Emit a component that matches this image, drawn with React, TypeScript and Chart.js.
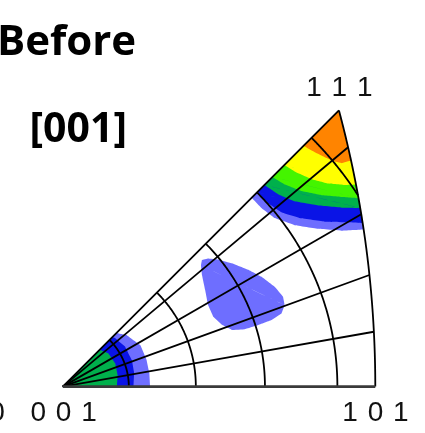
import React, { useEffect, useRef } from "react";
import { Chart, registerables } from "chart.js";

Chart.register(...registerables);

// ---- Data (degrees: polar angle theta from [001], azimuth phi from [100]) ----
const polarCircles = [10, 20, 30, 40, 50];
const azimuthLines = [10, 20, 30, 40];

// Contours around <111>: lower boundary as [phi, theta]
const c111LightBlue = [[45, 39.0], [41.9, 39.0], [38.5, 39.5], [34.8, 41.1], [31.7, 43.4], [29.2, 45.9], [27.6, 48.4]];
const c111Blue = [[45, 40.1], [41.7, 40.1], [38.5, 40.7], [35.2, 42.3], [32.2, 44.6], [29.9, 47.2], [28.6, 48.7]];
const c111DarkGreen = [[45, 41.4], [41.7, 41.9], [38.5, 43.0], [35.3, 45.1], [32.7, 47.4], [31.0, 49.4]];
const c111Lime = [[45, 42.9], [42.3, 43.4], [39.3, 44.5], [36.5, 46.2], [34.2, 48.2], [32.5, 49.9]];
const c111Yellow = [[45, 45.1], [42.8, 45.5], [39.8, 46.5], [37.4, 47.8], [35.5, 49.4], [34.6, 50.5]];
const c111Orange = [[45, 48.6], [43.5, 48.9], [41.7, 49.4], [39.9, 50.0], [38.7, 50.7], [38.1, 51.8]];

// Contours around <001>: outer boundary as [phi, theta]
const c001LightBlue = [[0, 13.2], [9, 13.25], [18, 13.3], [28, 13.3], [39, 12.4], [45, 11.5]];
const c001Blue = [[0, 10.7], [11, 11.0], [21, 11.2], [33, 11.2], [43, 10.8], [45, 10.6]];
const c001Green = [[0, 8.2], [12, 8.5], [24, 8.7], [36, 8.55], [45, 7.9]];

// Isolated blob in the middle: outline as [phi, theta]
const blobOutline = [
  [42.3, 28.0], [41.4, 28.8], [39.3, 29.8], [36.1, 31.0], [32.2, 32.4], [28.9, 33.5],
  [25.2, 34.5], [22.2, 35.0], [20.2, 34.8], [18.5, 34.0], [17.7, 32.4], [17.5, 30.4],
  [17.5, 28.4], [18.5, 26.6], [21.2, 25.5], [24.9, 24.8], [29.3, 24.9], [34.2, 25.7],
  [38.7, 26.6], [41.3, 27.4],
];

const titleText = "Before";
const directionText = "[001]";
const cornerLabels = { c001: "0 0 1", c101: "1 0 1", c111: "1 1 1" };

const colors = {
  lightBlue: "#6e6eff",
  blue: "#0a14e6",
  darkGreen: "#00b04c",
  lime: "#44f500",
  yellow: "#ffff00",
  orange: "#ff8400",
};

// ---- Geometry helpers (stereographic projection) ----
const rad = (d: number) => (d * Math.PI) / 180;
const deg = (r: number) => (r * 180) / Math.PI;
type P = { x: number; y: number };
function proj(theta: number, phi: number): P {
  const t = Math.tan(rad(theta) / 2);
  return { x: t * Math.cos(rad(phi)), y: t * Math.sin(rad(phi)) };
}
function arcTheta(phi: number): number {
  const c = Math.cos(rad(phi));
  return deg(2 * Math.atan(-c + Math.sqrt(c * c + 1)));
}
function pt(phi: number, theta: number): P {
  return proj(Math.min(theta, arcTheta(phi)), phi);
}
function arcPts(p0: number, p1: number, n: number): P[] {
  const out: P[] = [];
  for (let i = 0; i <= n; i++) {
    const phi = p0 + ((p1 - p0) * i) / n;
    out.push(proj(arcTheta(phi), phi));
  }
  return out;
}
function closeShape(pts: P[]): P[] {
  let li = 0;
  for (let i = 1; i < pts.length; i++) if (pts[i].x < pts[li].x) li = i;
  const ring = [...pts.slice(li), ...pts.slice(0, li)];
  let ri = 0;
  for (let i = 1; i < ring.length; i++) if (ring[i].x > ring[ri].x) ri = i;
  return [...ring, ring[0], ring[ri]];
}
function shape111(b: number[][]): P[] {
  const pts = b.map(([phi, theta]) => pt(phi, theta));
  const lastPhi = b[b.length - 1][0];
  return closeShape([...pts, ...arcPts(lastPhi, 45, 24)]);
}
function shape001(b: number[][]): P[] {
  return closeShape([{ x: 0, y: 0 }, ...b.map(([phi, theta]) => pt(phi, theta))]);
}
function shapeBlob(b: number[][]): P[] {
  return closeShape(b.map(([phi, theta]) => pt(phi, theta)));
}

function lineDs(data: P[], color = "#000", width = 1.8) {
  return {
    data,
    showLine: true,
    borderColor: color,
    borderWidth: width,
    pointRadius: 0,
    fill: false,
    tension: 0.0001,
    order: 0,
  };
}
function fillDs(data: P[], color: string, order: number) {
  return {
    data,
    showLine: true,
    borderColor: "rgba(0,0,0,0)",
    borderWidth: 0,
    backgroundColor: color,
    pointRadius: 0,
    fill: "shape",
    tension: 0.0001,
    order,
  };
}

function buildDatasets() {
  const ds: any[] = [];
  // grid & boundary
  ds.push(lineDs([{ x: 0, y: 0 }, proj(45, 0)], "#3a3a3a", 2.6));
  ds.push(lineDs([{ x: 0, y: 0 }, proj(arcTheta(45), 45)]));
  ds.push(lineDs(arcPts(0, 45, 80)));
  azimuthLines.forEach((phi) => ds.push(lineDs([{ x: 0, y: 0 }, proj(arcTheta(phi), phi)])));
  polarCircles.forEach((theta) => {
    const t = Math.tan(rad(theta) / 2);
    const c = (1 - t * t) / (2 * t);
    const start = c >= 1 ? 0 : deg(Math.acos(c));
    const n = 60;
    const pts: P[] = [];
    for (let i = 0; i <= n; i++) pts.push(proj(theta, start + ((45 - start) * i) / n));
    ds.push(lineDs(pts));
  });
  // 111 contours
  ds.push(fillDs(shape111(c111Orange), colors.orange, 1));
  ds.push(fillDs(shape111(c111Yellow), colors.yellow, 2));
  ds.push(fillDs(shape111(c111Lime), colors.lime, 3));
  ds.push(fillDs(shape111(c111DarkGreen), colors.darkGreen, 4));
  ds.push(fillDs(shape111(c111Blue), colors.blue, 5));
  ds.push(fillDs(shape111(c111LightBlue), colors.lightBlue, 6));
  // 001 contours
  ds.push(fillDs(shape001(c001Green), colors.darkGreen, 1));
  ds.push(fillDs(shape001(c001Blue), colors.blue, 2));
  ds.push(fillDs(shape001(c001LightBlue), colors.lightBlue, 3));
  // blob
  ds.push(fillDs(shapeBlob(blobOutline), colors.lightBlue, 1));
  return ds;
}

export default function App() {
  const ref = useRef<HTMLCanvasElement | null>(null);
  useEffect(() => {
    if (!ref.current) return;
    const chart = new Chart(ref.current, {
      type: "scatter",
      data: { datasets: buildDatasets() },
      options: {
        responsive: false,
        maintainAspectRatio: false,
        animation: false,
        devicePixelRatio: 1,
        layout: { padding: 0 },
        events: [],
        plugins: { legend: { display: false }, tooltip: { enabled: false }, title: { display: false } },
        scales: {
          x: { type: "linear", display: false, min: -0.08325, max: 0.48011 },
          y: { type: "linear", display: false, min: -0.06151, max: 0.51246 },
        },
      },
    } as any);
    return () => chart.destroy();
  }, []);

  const bold: React.CSSProperties = {
    position: "absolute",
    fontFamily: "'Open Sans', sans-serif",
    fontWeight: 700,
    color: "#000",
    whiteSpace: "nowrap",
    margin: 0,
  };
  const digit: React.CSSProperties = {
    position: "absolute",
    fontFamily: "'Liberation Sans', Arial, sans-serif",
    fontSize: 28,
    lineHeight: "28px",
    letterSpacing: "1px",
    color: "#111",
    whiteSpace: "pre",
  };

  return (
    <div style={{ position: "fixed", left: 0, top: 0, width: 425, height: 433, overflow: "hidden", background: "#fff" }}>
      <canvas ref={ref} width={425} height={433} style={{ position: "absolute", left: 0, top: 0, width: 425, height: 433 }} />
      <div style={{ ...bold, left: -3, top: 17.7, fontSize: 42, lineHeight: "42px" }}>{titleText}</div>
      <div style={{ ...bold, left: 29.5, top: 105.9, fontSize: 41, lineHeight: "41px" }}>{directionText}</div>
      <div style={{ ...digit, left: 306.2, top: 73 }}>{cornerLabels.c111}</div>
      <div style={{ ...digit, left: 30.5, top: 398 }}>{cornerLabels.c001}</div>
      <div style={{ ...digit, left: 342.3, top: 398 }}>{cornerLabels.c101}</div>
      <div style={{ ...digit, left: -10.7, top: 398 }}>0</div>
    </div>
  );
}
